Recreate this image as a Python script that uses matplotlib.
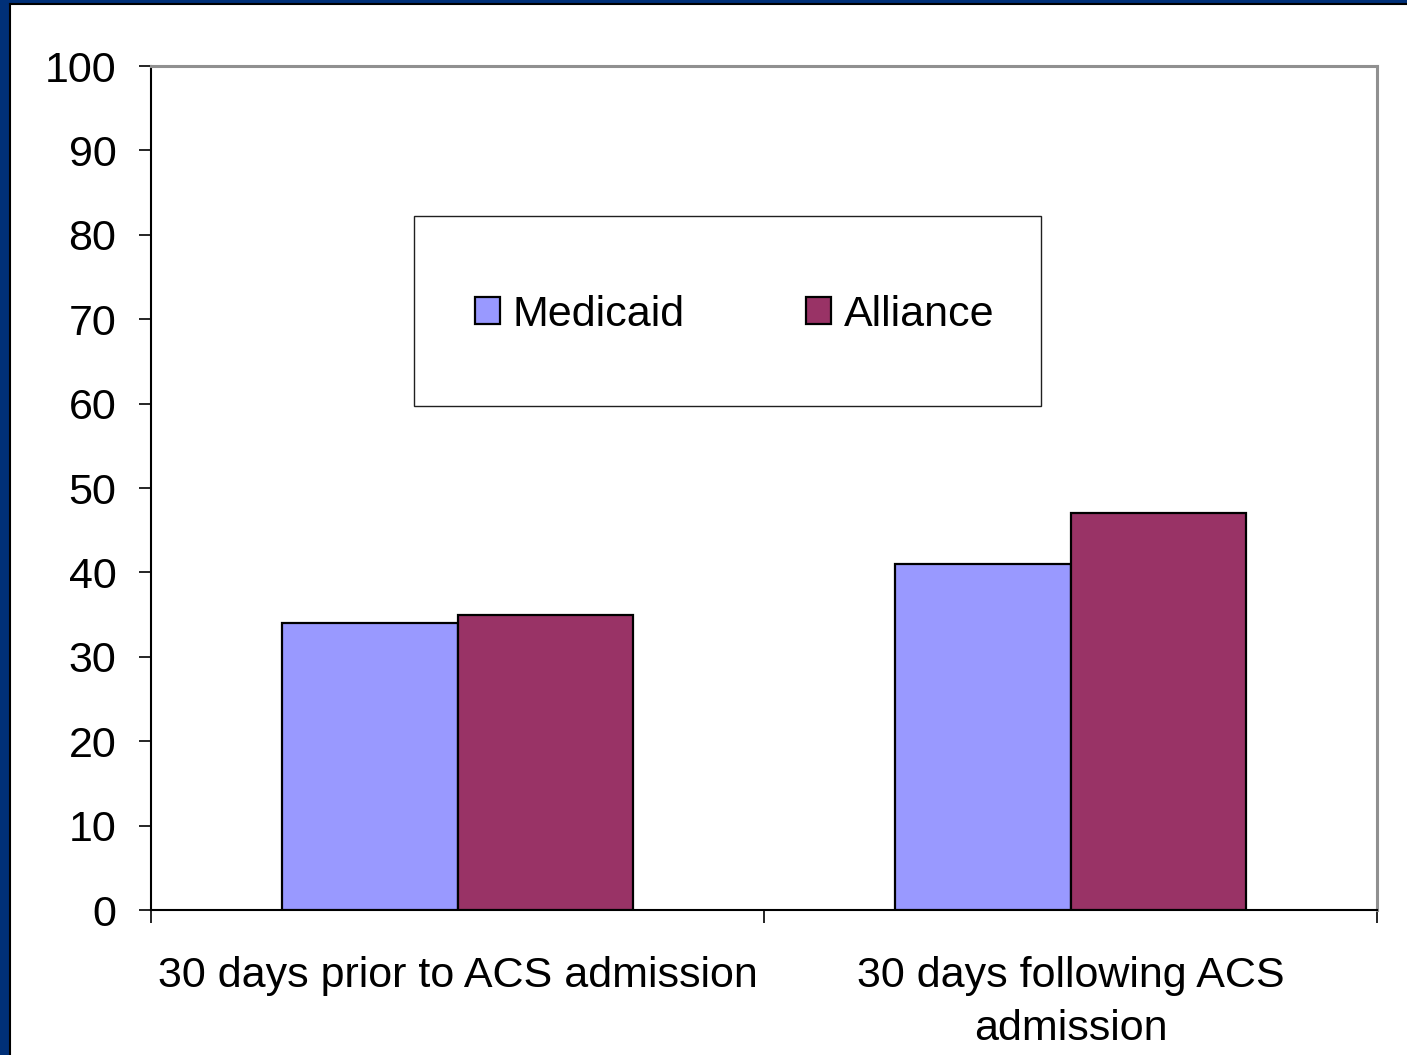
import numpy as np
import matplotlib.pyplot as plt
from matplotlib.patches import Rectangle
from matplotlib.lines import Line2D

plt.rcParams['font.family'] = ['Liberation Sans', 'DejaVu Sans']

categories = ['30 days prior to ACS admission', '30 days following ACS\nadmission']
medicaid = [34, 41]
alliance = [35, 47]
series_names = ['Medicaid', 'Alliance']
series_colors = ['#9999FF', '#993366']

fig = plt.figure(figsize=(14.07, 10.55), dpi=100)

# slide frame: navy strip on the left and top, thin black rule inside it
fig.patches.append(Rectangle((0, 0), 9 / 1407, 1, transform=fig.transFigure,
                             facecolor='#003078', edgecolor='none', zorder=0))
fig.patches.append(Rectangle((0, 1 - 3 / 1055), 1, 3 / 1055, transform=fig.transFigure,
                             facecolor='#003078', edgecolor='none', zorder=0))
fig.lines.append(Line2D([9.5 / 1407, 9.5 / 1407], [0, 1 - 3.5 / 1055], transform=fig.transFigure,
                        color='black', lw=1.5))
fig.lines.append(Line2D([9.5 / 1407, 1], [1 - 3.5 / 1055, 1 - 3.5 / 1055], transform=fig.transFigure,
                        color='black', lw=1.5))

ax = fig.add_axes([151 / 1407, 1 - 910 / 1055, 1226 / 1407, 844 / 1055])

x = np.arange(len(categories))
width = 0.286
ax.bar(x - width / 2, medicaid, width, color=series_colors[0], edgecolor='black',
       linewidth=1.6, label=series_names[0], zorder=3)
ax.bar(x + width / 2, alliance, width, color=series_colors[1], edgecolor='black',
       linewidth=1.6, label=series_names[1], zorder=3)

ax.set_xlim(-0.5, 1.5)
ax.set_ylim(0, 100)
ax.set_yticks(np.arange(0, 101, 10))
ax.tick_params(axis='y', labelsize=31, length=9, width=1.2, pad=16, direction='out')

ax.set_xticks(x)
ax.set_xticklabels(categories, fontsize=31, linespacing=1.43)
ax.tick_params(axis='x', length=0, pad=33)
ax.set_xticks([-0.5, 0.5, 1.5], minor=True)
ax.tick_params(axis='x', which='minor', length=9, width=1.2, direction='out')

for side in ['top', 'right']:
    ax.spines[side].set_color('#909090')
    ax.spines[side].set_linewidth(2.2)
for side in ['left', 'bottom']:
    ax.spines[side].set_color('black')
    ax.spines[side].set_linewidth(1.5)

# legend box
ax.add_patch(Rectangle((0.2145, 0.597), 0.5115, 0.225, transform=ax.transAxes,
                       facecolor='white', edgecolor='#202020', linewidth=1.0, zorder=4))
leg = ax.legend(loc='center', bbox_to_anchor=(0.476, 0.705), ncol=2, frameon=False,
                fontsize=31, handlelength=0.58, handleheight=0.58,
                handletextpad=0.3, columnspacing=2.8)
leg.set_zorder(5)

fig.savefig('out.png', dpi=100, facecolor='white')
